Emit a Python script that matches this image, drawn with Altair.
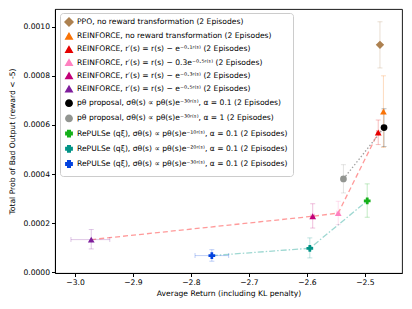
import altair as alt
import pandas as pd

labels = [
    "PPO, no reward transformation (2 Episodes)",
    "REINFORCE, no reward transformation (2 Episodes)",
    "REINFORCE, r′(s) = r(s) − e⁻⁰·¹ʳ⁽ˢ⁾ (2 Episodes)",
    "REINFORCE, r′(s) = r(s) − 0.3e⁻⁰·⁵ʳ⁽ˢ⁾ (2 Episodes)",
    "REINFORCE, r′(s) = r(s) − e⁻⁰·³ʳ⁽ˢ⁾ (2 Episodes)",
    "REINFORCE, r′(s) = r(s) − e⁻⁰·⁵ʳ⁽ˢ⁾ (2 Episodes)",
    "pθ proposal, σθ(s) ∝ pθ(s)e⁻³⁰ʳ⁽ˢ⁾, α = 0.1 (2 Episodes)",
    "pθ proposal, σθ(s) ∝ pθ(s)e⁻³⁰ʳ⁽ˢ⁾, α = 1 (2 Episodes)",
    "RePULSe (qξ), σθ(s) ∝ pθ(s)e⁻¹⁰ʳ⁽ˢ⁾, α = 0.1 (2 Episodes)",
    "RePULSe (qξ), σθ(s) ∝ pθ(s)e⁻²⁰ʳ⁽ˢ⁾, α = 0.1 (2 Episodes)",
    "RePULSe (qξ), σθ(s) ∝ pθ(s)e⁻³⁰ʳ⁽ˢ⁾, α = 0.1 (2 Episodes)",
]
colors = ["#ad8150", "#f97306", "#e50000", "#ff81c0", "#c20078", "#7e1e9c",
          "#000000", "#929591", "#15b01a", "#029386", "#0343df"]
diamond = "M0,-1.25L1.25,0L0,1.25L-1.25,0Z"
shapes = [diamond, "triangle-up", "triangle-up", "triangle-up", "triangle-up", "triangle-up",
          "circle", "circle", "cross", "cross", "cross"]

x_ret = [-2.474, -2.468, -2.477, -2.546, -2.590, -2.972, -2.467, -2.537, -2.496, -2.595, -2.764]
y_bad = [0.000926, 0.000654, 0.000569, 0.000241, 0.000228, 0.000133, 0.000589, 0.000380,
         0.000291, 0.0000976, 0.0000679]
y_lo = [0.000832, 0.000508, 0.000520, 0.000194, 0.000180, 0.000095, 0.000512, 0.000323,
        0.000224, 0.0000585, 0.000045]
y_hi = [0.001020, 0.000800, 0.000620, 0.000289, 0.000279, 0.000174, 0.000666, 0.000438,
        0.000360, 0.000140, 0.000092]
x_lo = [-2.476, -2.470, -2.480, -2.549, -2.593, -3.007, -2.469, -2.539, -2.498, -2.597, -2.793]
x_hi = [-2.472, -2.466, -2.474, -2.543, -2.587, -2.940, -2.465, -2.535, -2.494, -2.593, -2.735]

red_line = [5, 4, 3, 2]
gray_line = [7, 6]
teal_line = [10, 9, 8]

df = pd.DataFrame({"label": labels, "x": x_ret, "y": y_bad, "ylo": y_lo, "yhi": y_hi,
                   "xlo": x_lo, "xhi": x_hi, "order": list(range(len(labels)))})

xs = alt.Scale(domain=[-3.0345, -2.436], nice=False, zero=False)
ys = alt.Scale(domain=[-0.000003, 0.001072], nice=False, zero=False)

X = alt.X("x:Q", scale=xs, axis=alt.Axis(values=[-3.0, -2.9, -2.8, -2.7, -2.6, -2.5], format=".1f",
                                          title="Average Return (including KL penalty)", grid=False))
Y = alt.Y("y:Q", scale=ys, axis=alt.Axis(values=[0, 0.0002, 0.0004, 0.0006, 0.0008, 0.0010], format=".4f",
                                          title="Total Prob of Bad Output (reward < -5)", grid=False))

color_scale = alt.Scale(domain=labels, range=colors)
shape_scale = alt.Scale(domain=labels, range=shapes)


def line_layer(idx, col, dash):
    d = df.iloc[idx].copy()
    d["seq"] = range(len(d))
    return alt.Chart(d).mark_line(color=col, strokeDash=dash, strokeWidth=1.3).encode(
        x=X, y=Y, order="seq:Q")


l1 = line_layer(red_line, "#ff9a9a", [5, 3])
l2 = line_layer(gray_line, "#a0a0a0", [1.5, 2])
l3 = line_layer(teal_line, "#9fd8d2", [6, 2, 1.5, 2])

leg = alt.Legend(title=None, orient="none", legendX=5, legendY=4,
                 fillColor="white", strokeColor="#cccccc", cornerRadius=3,
                 padding=5, labelFontSize=7.6, labelFont="DejaVu Sans",
                 symbolSize=40, rowPadding=1.2, labelLimit=400, symbolOpacity=1)

base = alt.Chart(df)
ccol = alt.Color("label:N", scale=color_scale, legend=leg)
vbar = base.mark_rule(opacity=0.25, strokeWidth=1).encode(x=X, y=alt.Y("ylo:Q", scale=ys), y2="yhi:Q", color=ccol)
vcap1 = base.mark_tick(orient="horizontal", opacity=0.25, thickness=1, size=5).encode(
    x=X, y=alt.Y("ylo:Q", scale=ys), color=ccol)
vcap2 = base.mark_tick(orient="horizontal", opacity=0.25, thickness=1, size=5).encode(
    x=X, y=alt.Y("yhi:Q", scale=ys), color=ccol)
hbar = base.mark_rule(opacity=0.25, strokeWidth=1).encode(x=alt.X("xlo:Q", scale=xs), x2="xhi:Q", y=Y, color=ccol)
hcap1 = base.mark_tick(orient="vertical", opacity=0.25, thickness=1, size=5).encode(
    x=alt.X("xlo:Q", scale=xs), y=Y, color=ccol)
hcap2 = base.mark_tick(orient="vertical", opacity=0.25, thickness=1, size=5).encode(
    x=alt.X("xhi:Q", scale=xs), y=Y, color=ccol)

pts = base.mark_point(filled=True, size=45, opacity=1).encode(
    x=X, y=Y,
    color=ccol,
    shape=alt.Shape("label:N", scale=shape_scale, legend=leg),
)

chart = alt.layer(l1, l2, l3, vbar, vcap1, vcap2, hbar, hcap1, hcap2, pts).properties(
    width=347, height=264,
    autosize=alt.AutoSizeParams(type="none"),
    padding={"left": 47, "top": 1, "right": 2, "bottom": 28},
).configure_view(stroke="black", strokeWidth=0.9).configure_axis(
    labelFont="DejaVu Sans", titleFont="DejaVu Sans", labelFontSize=7.6, titleFontSize=7.6,
    titleFontWeight="normal", labelColor="black", titleColor="black", domainColor="black",
    tickColor="black", tickSize=3.5, labelPadding=2, domain=True,
).configure_axisY(titlePadding=6).configure_axisX(titlePadding=3)

chart.save("out.html", embed_options={"renderer": "svg", "actions": False})
